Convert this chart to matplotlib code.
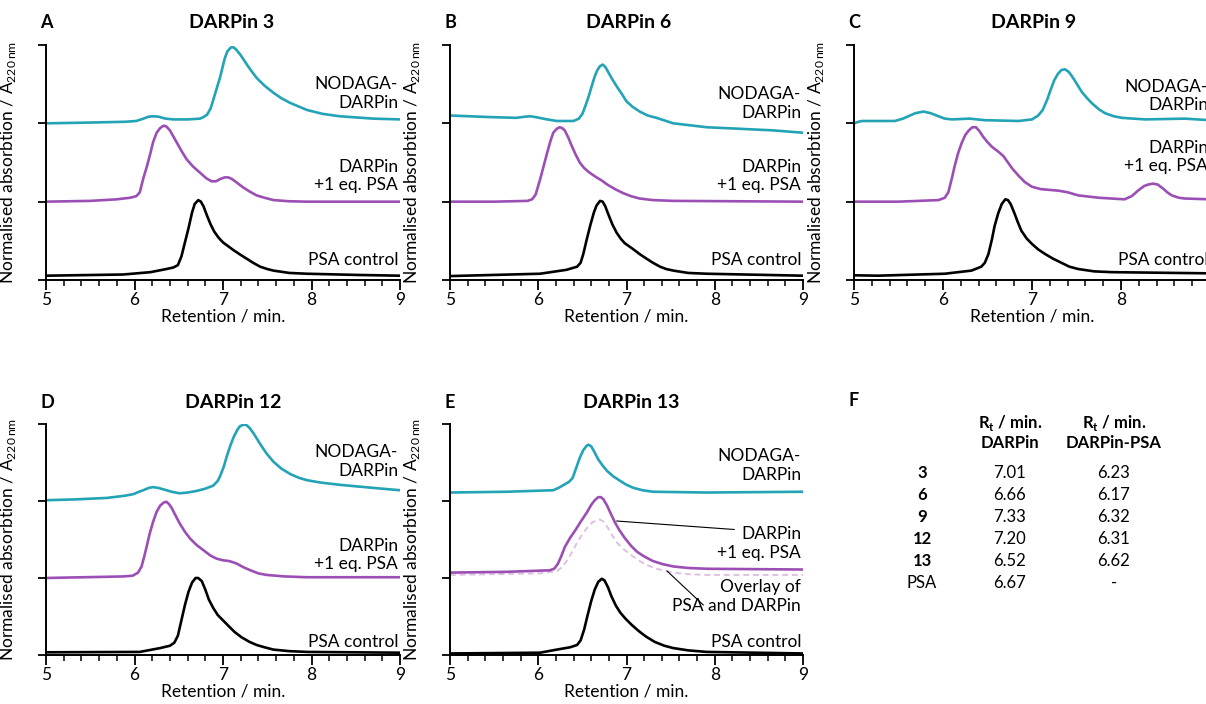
"""
Size-exclusion chromatograms of NODAGA-DARPins, DARPin + PSA and PSA control,
plus the retention-time table (panel F).
"""
import matplotlib
matplotlib.use("Agg")
import matplotlib.pyplot as plt
from matplotlib.ticker import MultipleLocator

FONT = "Lato"
plt.rcParams["font.family"] = [FONT, "DejaVu Sans"]
plt.rcParams["mathtext.fontset"] = "custom"
plt.rcParams["mathtext.rm"] = FONT
plt.rcParams["mathtext.bf"] = FONT + ":bold"

CYAN = "#23a3b6"
PURPLE = "#9b4fb5"
OVERLAY = "#dfbfe2"

# ------------------------------------------------------------------
# DATA  (retention / min, normalised absorbance with vertical offset)
# ------------------------------------------------------------------

# DARPin 3
d3_nodaga_t = [5.0, 5.5, 5.9, 6.02, 6.10, 6.16, 6.21, 6.27, 6.35, 6.44, 6.6, 6.74, 6.78,
               6.82, 6.86, 6.89, 6.93, 6.97, 7.0, 7.02, 7.05, 7.09, 7.12, 7.15, 7.20,
               7.27, 7.32, 7.38, 7.47, 7.57, 7.66, 7.76, 7.95, 8.13, 8.32, 8.70, 9.0]
d3_nodaga_a = [2.00, 2.01, 2.02, 2.03, 2.06, 2.085, 2.09, 2.085, 2.06, 2.05, 2.05, 2.06,
               2.08, 2.11, 2.19, 2.30, 2.45, 2.60, 2.74, 2.83, 2.92, 2.97, 2.97, 2.94,
               2.87, 2.75, 2.67, 2.58, 2.48, 2.39, 2.32, 2.26, 2.17, 2.12, 2.09, 2.06,
               2.05]
d3_psa_t = [5.0, 5.5, 5.8, 5.95, 6.02, 6.06, 6.10, 6.14, 6.18, 6.21, 6.25, 6.29, 6.33,
            6.36, 6.40, 6.44, 6.48, 6.54, 6.59, 6.66, 6.74, 6.81, 6.87, 6.92, 6.97,
            7.02, 7.06, 7.10, 7.16, 7.23, 7.30, 7.38, 7.47, 7.57, 7.75, 7.95, 9.0]
d3_psa_a = [1.00, 1.01, 1.03, 1.05, 1.07, 1.12, 1.30, 1.45, 1.62, 1.76, 1.88, 1.94, 1.97,
            1.96, 1.91, 1.83, 1.75, 1.63, 1.54, 1.45, 1.37, 1.30, 1.26, 1.26, 1.29,
            1.31, 1.31, 1.29, 1.24, 1.18, 1.13, 1.08, 1.05, 1.02, 1.005, 1.00, 1.00]
d3_ctrl_t = [5.0, 5.87, 6.18, 6.36, 6.44, 6.49, 6.53, 6.57, 6.61, 6.65, 6.68, 6.72, 6.75,
             6.78, 6.82, 6.86, 6.90, 6.95, 7.00, 7.06, 7.12, 7.20, 7.27, 7.34, 7.42,
             7.50, 7.57, 7.75, 7.95, 8.5, 9.0]
d3_ctrl_a = [0.055, 0.07, 0.10, 0.14, 0.16, 0.19, 0.30, 0.48, 0.66, 0.86, 0.97, 1.02, 1.00,
             0.94, 0.82, 0.71, 0.62, 0.54, 0.48, 0.43, 0.38, 0.32, 0.27, 0.22, 0.17,
             0.14, 0.12, 0.09, 0.08, 0.065, 0.055]

# DARPin 6
d6_nodaga_t = [5.0, 5.45, 5.75, 5.85, 5.91, 5.97, 6.10, 6.21, 6.40, 6.46, 6.50, 6.54,
               6.57, 6.61, 6.64, 6.67, 6.70, 6.73, 6.76, 6.79, 6.84, 6.89, 6.95, 7.00,
               7.07, 7.15, 7.24, 7.34, 7.53, 7.91, 8.29, 8.66, 9.0]
d6_nodaga_a = [2.10, 2.08, 2.07, 2.085, 2.09, 2.08, 2.05, 2.03, 2.03, 2.06, 2.12, 2.24,
               2.34, 2.49, 2.60, 2.68, 2.73, 2.75, 2.72, 2.66, 2.56, 2.47, 2.37, 2.28,
               2.21, 2.15, 2.10, 2.07, 2.00, 1.95, 1.93, 1.91, 1.88]
d6_psa_t = [5.0, 5.5, 5.88, 5.93, 5.97, 6.02, 6.06, 6.10, 6.14, 6.17, 6.21, 6.24, 6.27,
            6.30, 6.34, 6.38, 6.42, 6.47, 6.52, 6.57, 6.62, 6.66, 6.72, 6.78, 6.87,
            6.96, 7.05, 7.15, 7.30, 7.53, 9.0]
d6_psa_a = [1.00, 1.00, 1.01, 1.03, 1.09, 1.28, 1.45, 1.62, 1.78, 1.88, 1.93, 1.95, 1.94,
            1.91, 1.82, 1.71, 1.61, 1.50, 1.43, 1.38, 1.34, 1.31, 1.27, 1.22, 1.16,
            1.11, 1.07, 1.04, 1.02, 1.01, 1.00]
d6_ctrl_t = [5.0, 6.02, 6.32, 6.44, 6.48, 6.51, 6.55, 6.59, 6.63, 6.66, 6.70, 6.73, 6.76,
             6.79, 6.84, 6.89, 6.94, 6.98, 7.03, 7.08, 7.15, 7.23, 7.30, 7.38, 7.45,
             7.53, 7.70, 7.91, 9.0]
d6_ctrl_a = [0.05, 0.08, 0.13, 0.17, 0.22, 0.33, 0.52, 0.70, 0.86, 0.95, 1.01, 1.00, 0.94,
             0.85, 0.71, 0.60, 0.52, 0.47, 0.43, 0.39, 0.33, 0.27, 0.22, 0.17, 0.14,
             0.12, 0.09, 0.08, 0.055]

# DARPin 9
d9_nodaga_t = [5.0, 5.05, 5.09, 5.46, 5.55, 5.61, 5.69, 5.78, 5.86, 5.95, 6.02, 6.10,
               6.30, 6.47, 6.85, 7.0, 7.07, 7.12, 7.17, 7.21, 7.25, 7.29, 7.33, 7.37,
               7.41, 7.45, 7.50, 7.56, 7.62, 7.67, 7.75, 7.82, 7.92, 8.01, 8.27, 8.72,
               9.0]
d9_nodaga_a = [2.00, 2.02, 2.03, 2.03, 2.06, 2.09, 2.13, 2.15, 2.13, 2.09, 2.06, 2.05,
               2.06, 2.04, 2.03, 2.05, 2.10, 2.17, 2.30, 2.43, 2.55, 2.63, 2.68, 2.69,
               2.66, 2.60, 2.51, 2.40, 2.32, 2.26, 2.18, 2.13, 2.09, 2.07, 2.05, 2.06,
               2.04]
d9_psa_t = [5.0, 5.5, 5.95, 6.02, 6.06, 6.10, 6.13, 6.17, 6.21, 6.25, 6.29, 6.33, 6.37,
            6.41, 6.45, 6.50, 6.55, 6.62, 6.68, 6.73, 6.78, 6.85, 6.92, 7.0, 7.10, 7.30,
            7.40, 7.52, 7.75, 8.04, 8.12, 8.19, 8.26, 8.31, 8.36, 8.41, 8.47, 8.52,
            8.57, 8.65, 8.72, 9.0]
d9_psa_a = [1.00, 1.00, 1.02, 1.05, 1.12, 1.30, 1.45, 1.62, 1.75, 1.85, 1.91, 1.95, 1.95,
            1.90, 1.83, 1.76, 1.70, 1.64, 1.58, 1.50, 1.42, 1.33, 1.25, 1.19, 1.16, 1.14,
            1.12, 1.08, 1.05, 1.03, 1.07, 1.14, 1.20, 1.22, 1.23, 1.22, 1.17, 1.12,
            1.08, 1.05, 1.04, 1.03]
d9_ctrl_t = [5.0, 5.27, 6.02, 6.32, 6.43, 6.47, 6.51, 6.55, 6.58, 6.62, 6.66, 6.70, 6.73,
             6.76, 6.80, 6.84, 6.88, 6.94, 7.00, 7.07, 7.15, 7.24, 7.33, 7.42, 7.52,
             7.70, 7.90, 9.0]
d9_ctrl_a = [0.06, 0.055, 0.08, 0.12, 0.17, 0.22, 0.33, 0.52, 0.69, 0.85, 0.97, 1.03,
             1.02, 0.97, 0.86, 0.74, 0.63, 0.53, 0.46, 0.39, 0.33, 0.27, 0.22, 0.17,
             0.14, 0.11, 0.10, 0.085]

# DARPin 12
d12_nodaga_t = [5.0, 5.31, 5.69, 5.90, 5.99, 6.05, 6.10, 6.16, 6.21, 6.27, 6.33, 6.42,
                6.51, 6.60, 6.70, 6.80, 6.89, 6.94, 6.97, 7.01, 7.04, 7.08, 7.12, 7.16,
                7.19, 7.23, 7.26, 7.30, 7.35, 7.42, 7.49, 7.57, 7.66, 7.76, 7.86, 7.95,
                8.1, 8.32, 8.70, 9.0]
d12_nodaga_a = [2.01, 2.02, 2.04, 2.07, 2.09, 2.12, 2.14, 2.17, 2.18, 2.17, 2.15, 2.12,
                2.10, 2.11, 2.13, 2.16, 2.20, 2.26, 2.33, 2.45, 2.57, 2.71, 2.83, 2.92,
                2.97, 2.99, 2.99, 2.95, 2.87, 2.74, 2.62, 2.51, 2.42, 2.35, 2.30, 2.27,
                2.24, 2.21, 2.17, 2.14]
d12_psa_t = [5.0, 5.87, 5.98, 6.04, 6.08, 6.11, 6.14, 6.17, 6.21, 6.25, 6.29, 6.33, 6.36,
             6.39, 6.42, 6.46, 6.51, 6.57, 6.63, 6.70, 6.78, 6.86, 6.93, 7.0, 7.07, 7.15,
             7.23, 7.31, 7.40, 7.49, 7.70, 7.95, 9.0]
d12_psa_a = [1.00, 1.02, 1.03, 1.07, 1.15, 1.28, 1.42, 1.57, 1.73, 1.86, 1.94, 1.98, 1.99,
             1.96, 1.91, 1.82, 1.71, 1.60, 1.51, 1.43, 1.36, 1.29, 1.25, 1.23, 1.22,
             1.19, 1.14, 1.10, 1.06, 1.04, 1.02, 1.01, 1.01]
d12_ctrl_t = [5.0, 6.06, 6.29, 6.40, 6.45, 6.49, 6.53, 6.57, 6.61, 6.65, 6.69, 6.72, 6.76,
              6.80, 6.84, 6.89, 6.94, 7.0, 7.06, 7.13, 7.21, 7.30, 7.38, 7.47, 7.57,
              7.75, 7.95, 9.0]
d12_ctrl_a = [0.035, 0.04, 0.09, 0.12, 0.16, 0.25, 0.45, 0.65, 0.82, 0.94, 1.00, 1.00,
              0.96, 0.85, 0.72, 0.61, 0.52, 0.45, 0.38, 0.30, 0.23, 0.17, 0.13, 0.10,
              0.07, 0.05, 0.04, 0.03]

# DARPin 13
d13_nodaga_t = [5.0, 5.64, 6.17, 6.23, 6.29, 6.35, 6.39, 6.43, 6.47, 6.51, 6.55, 6.57,
                6.60, 6.63, 6.68, 6.73, 6.78, 6.85, 6.93, 7.0, 7.08, 7.18, 7.30, 7.91,
                9.0]
d13_nodaga_a = [2.11, 2.12, 2.14, 2.17, 2.21, 2.25, 2.30, 2.43, 2.56, 2.66, 2.72, 2.73,
                2.71, 2.65, 2.54, 2.46, 2.39, 2.32, 2.26, 2.21, 2.17, 2.14, 2.12, 2.11,
                2.12]
d13_psa_t = [5.0, 5.64, 6.13, 6.18, 6.22, 6.26, 6.30, 6.36, 6.42, 6.48, 6.55, 6.60, 6.64,
             6.68, 6.71, 6.74, 6.78, 6.82, 6.87, 6.92, 6.98, 7.05, 7.12, 7.20, 7.30,
             7.41, 7.53, 7.70, 7.91, 9.0]
d13_psa_a = [1.07, 1.08, 1.10, 1.12, 1.18, 1.28, 1.40, 1.52, 1.62, 1.73, 1.85, 1.95, 2.01,
             2.05, 2.05, 2.02, 1.94, 1.84, 1.72, 1.62, 1.52, 1.42, 1.34, 1.28, 1.22,
             1.18, 1.15, 1.13, 1.12, 1.11]
d13_overlay_t = [5.0, 6.02, 6.21, 6.27, 6.32, 6.38, 6.44, 6.50, 6.56, 6.61, 6.66, 6.70,
                 6.74, 6.78, 6.84, 6.90, 6.96, 7.05, 7.15, 7.25, 7.34, 7.45, 7.53, 7.70,
                 7.91, 9.0]
d13_overlay_a = [1.04, 1.06, 1.09, 1.14, 1.22, 1.33, 1.46, 1.57, 1.66, 1.72, 1.75, 1.76,
                 1.73, 1.67, 1.55, 1.45, 1.38, 1.30, 1.22, 1.16, 1.12, 1.09, 1.07, 1.05,
                 1.04, 1.04]
d13_ctrl_t = [5.0, 6.02, 6.21, 6.36, 6.44, 6.48, 6.52, 6.56, 6.60, 6.64, 6.68, 6.72, 6.75,
              6.79, 6.83, 6.88, 6.93, 6.99, 7.06, 7.14, 7.22, 7.32, 7.43, 7.53, 7.70,
              7.91, 9.0]
d13_ctrl_a = [0.02, 0.03, 0.07, 0.10, 0.13, 0.19, 0.33, 0.52, 0.70, 0.85, 0.95, 0.99, 0.97,
              0.88, 0.76, 0.64, 0.55, 0.47, 0.39, 0.31, 0.24, 0.17, 0.12, 0.09, 0.06,
              0.04, 0.02]

# label heights (curve annotation y positions) per panel: nodaga, +PSA, control
label_y = {
    "3": (2.38, 1.33, 0.26),
    "6": (2.25, 1.33, 0.25),
    "9": (2.35, 1.57, 0.25),
    "12": (2.51, 1.30, 0.17),
    "13": (2.46, 1.45, 0.17),
}
overlay_label_y = 0.76

# Panel F table
table_ids = ["3", "6", "9", "12", "13", "PSA"]
rt_darpin = ["7.01", "6.66", "7.33", "7.20", "6.52", "6.67"]
rt_darpin_psa = ["6.23", "6.17", "6.32", "6.31", "6.62", "-"]


# ------------------------------------------------------------------
# PLOTTING
# ------------------------------------------------------------------

W, H = 1206, 704
fig = plt.figure(figsize=(W / 100, H / 100), dpi=100)
LABEL_KW = dict(ha="right", va="center", fontsize=12.5, linespacing=1.2,
                multialignment="right")
LINE_KW = dict(lw=1.9, solid_joinstyle="round", solid_capstyle="round")


def px_axes(x0, x1, ytop, ybot):
    """Axes from pixel box (figure is W x H px, y from top)."""
    return fig.add_axes([x0 / W, 1 - ybot / H, (x1 - x0) / W, (ybot - ytop) / H])


def style_axes(ax):
    ax.set_xlim(5, 9)
    ax.set_ylim(0, 3)
    for s in ("top", "right"):
        ax.spines[s].set_visible(False)
    for s in ("left", "bottom"):
        ax.spines[s].set_linewidth(1.4)
    ax.xaxis.set_major_locator(MultipleLocator(1))
    ax.xaxis.set_minor_locator(MultipleLocator(0.2))
    ax.yaxis.set_major_locator(MultipleLocator(1))
    ax.yaxis.set_major_formatter(plt.NullFormatter())
    ax.tick_params(axis="x", which="major", direction="out", length=7, width=1.3,
                   labelsize=12.5, pad=1.5)
    ax.tick_params(axis="x", which="minor", direction="out", length=4.5, width=1.1)
    ax.tick_params(axis="y", which="major", direction="out", length=6, width=1.3)
    ax.set_xlabel("Retention / min.", fontsize=12.5, labelpad=0.5)
    ax.set_ylabel(r"Normalised absorbtion / A$_{\mathregular{220\,nm}}$",
                  fontsize=12.5)
    ax.yaxis.set_label_coords(-0.078, 0.5)
    ax.patch.set_visible(False)


def panel_titles(ax, key, letter, title_x):
    bb = ax.get_position()
    fig.text(title_x / W, bb.y1 + 22 / H, "DARPin " + key,
             ha="center", va="center", fontsize=14, fontweight="bold")
    fig.text(bb.x0 - 6 / W, bb.y1 + 22 / H, letter,
             ha="left", va="center", fontsize=13, fontweight="bold")


def draw_panel(ax, key, letter, title_x, nodaga, psa, ctrl):
    style_axes(ax)
    ax.plot(*nodaga, color=CYAN, **LINE_KW)
    ax.plot(*psa, color=PURPLE, **LINE_KW)
    ax.plot(*ctrl, color="black", **LINE_KW)

    yn, yp, yc = label_y[key]
    ax.text(8.98, yn, "NODAGA-\nDARPin", **LABEL_KW)
    ax.text(8.98, yp, "DARPin\n+1 eq. PSA", **LABEL_KW)
    ax.text(8.98, yc, "PSA control", **LABEL_KW)
    panel_titles(ax, key, letter, title_x)


ax_a = px_axes(46, 400, 45, 280)
ax_b = px_axes(450, 803, 45, 280)
ax_c = px_axes(854, 1210, 45, 280)
ax_d = px_axes(46, 400, 424, 655)
ax_e = px_axes(450, 803, 424, 655)

draw_panel(ax_a, "3", "A", 232, (d3_nodaga_t, d3_nodaga_a), (d3_psa_t, d3_psa_a),
           (d3_ctrl_t, d3_ctrl_a))
draw_panel(ax_b, "6", "B", 629, (d6_nodaga_t, d6_nodaga_a), (d6_psa_t, d6_psa_a),
           (d6_ctrl_t, d6_ctrl_a))
draw_panel(ax_c, "9", "C", 1034, (d9_nodaga_t, d9_nodaga_a), (d9_psa_t, d9_psa_a),
           (d9_ctrl_t, d9_ctrl_a))
draw_panel(ax_d, "12", "D", 233, (d12_nodaga_t, d12_nodaga_a),
           (d12_psa_t, d12_psa_a), (d12_ctrl_t, d12_ctrl_a))

# Panel E: extra overlay trace and leader lines
style_axes(ax_e)
ax_e.plot(d13_nodaga_t, d13_nodaga_a, color=CYAN, **LINE_KW)
ax_e.plot(d13_overlay_t, d13_overlay_a, color=OVERLAY, lw=1.4, ls=(0, (3, 2)))
ax_e.plot(d13_psa_t, d13_psa_a, color=PURPLE, **LINE_KW)
ax_e.plot(d13_ctrl_t, d13_ctrl_a, color="black", **LINE_KW)
ax_e.text(8.98, label_y["13"][0], "NODAGA-\nDARPin", **LABEL_KW)
ax_e.text(8.98, label_y["13"][1], "DARPin\n+1 eq. PSA", **LABEL_KW)
ax_e.text(8.98, overlay_label_y, "Overlay of\nPSA and DARPin", **LABEL_KW)
ax_e.text(8.98, label_y["13"][2], "PSA control", **LABEL_KW)
ax_e.plot([6.89, 8.22], [1.74, 1.63], color="black", lw=0.8)
ax_e.plot([7.46, 7.87], [1.09, 0.65], color="black", lw=0.8)
panel_titles(ax_e, "13", "E", 631)

# Panel F: retention-time table
fig.text(848 / W, 1 - 401 / H, "F", ha="left", va="center", fontsize=13,
         fontweight="bold")
col_x = [922, 1010, 1114]
for cx, sub in zip(col_x[1:], ["DARPin", "DARPin-PSA"]):
    fig.text(cx / W, 1 - 423 / H, r"R$_\mathbf{t}$ / min.", ha="center",
             va="center", fontsize=12, fontweight="bold")
    fig.text(cx / W, 1 - 443 / H, sub, ha="center", va="center",
             fontsize=12, fontweight="bold")
for i, (rid, v1, v2) in enumerate(zip(table_ids, rt_darpin, rt_darpin_psa)):
    y = 1 - (473 + 22 * i) / H
    fig.text(col_x[0] / W, y, rid, ha="center", va="center", fontsize=12,
             fontweight="normal" if rid == "PSA" else "bold")
    fig.text(col_x[1] / W, y, v1, ha="center", va="center", fontsize=12)
    fig.text(col_x[2] / W, y, v2, ha="center", va="center", fontsize=12)

fig.savefig("out.png", dpi=100)
plt.close(fig)
print("Saved: out.png")
